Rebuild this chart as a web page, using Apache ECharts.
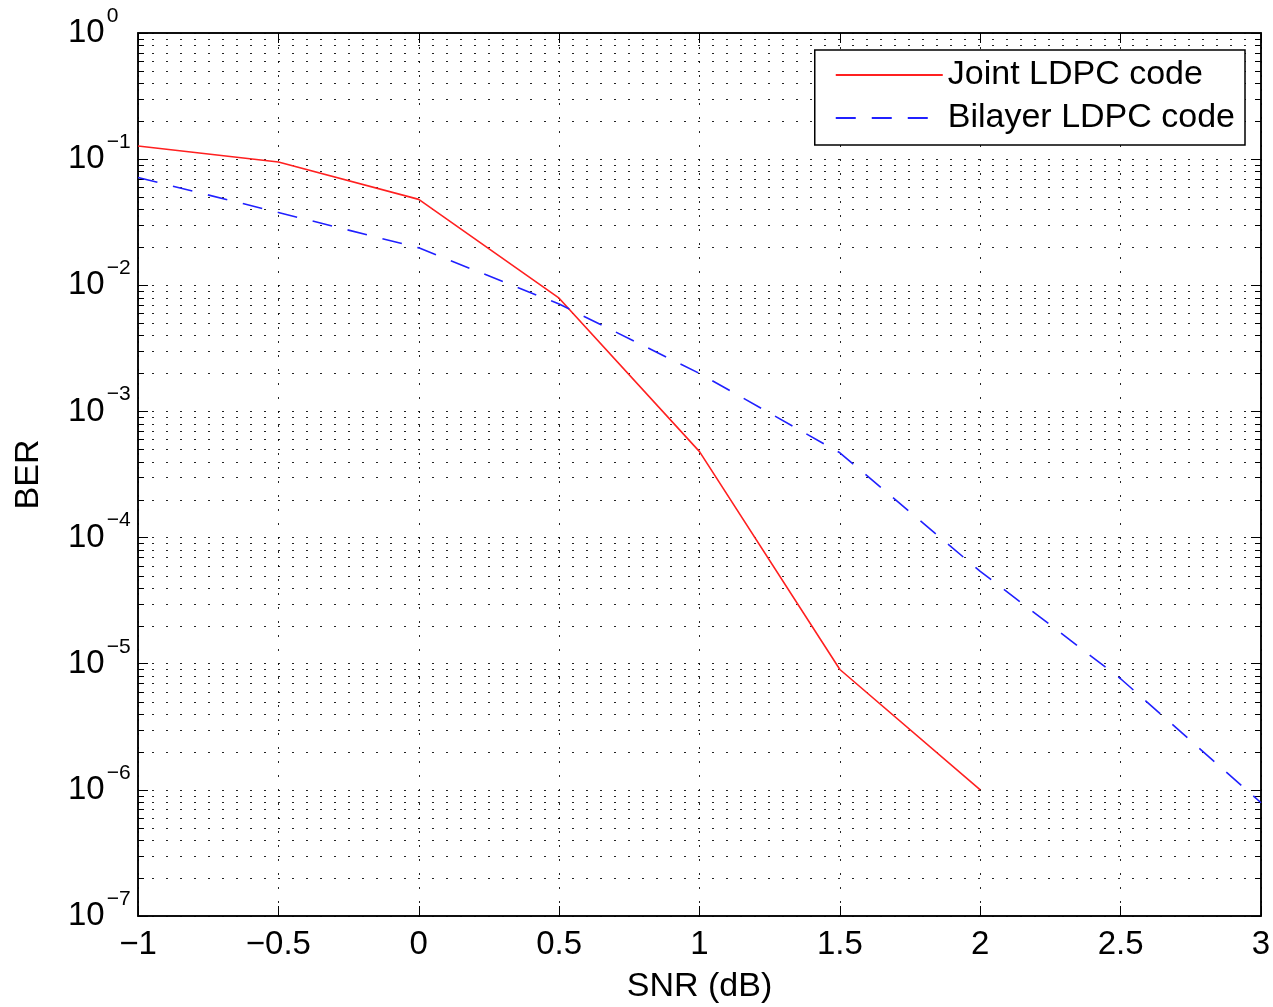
<!DOCTYPE html>
<html>
<head>
<meta charset="utf-8">
<script src="https://cdn.jsdelivr.net/npm/echarts@6/dist/echarts.min.js"></script>
<style>html,body{margin:0;padding:0;background:#fff}#c{width:1273px;height:1007px}</style>
</head>
<body>
<div id="c"></div>
<script>
const snr = [-1, -0.5, 0, 0.5, 1, 1.5, 2, 2.5, 3];
const jointBER = [0.127, 0.095, 0.048, 0.0079, 4.8e-4, 9.0e-6, 1.0e-6];
const bilayerBER = [0.0716, 0.0378, 0.0198, 0.0071, 0.0020, 4.7e-4, 5.4e-5, 7.6e-6, 7.9e-7];
const seriesNames = ['Joint LDPC code', 'Bilayer LDPC code'];
const xMin = -1, xMax = 3, xStep = 0.5;
const yMin = 1e-7, yMax = 1;

const FONT = 'Liberation Sans, Arial, sans-serif';
const minorVals = [];
for (let d = -7; d < 0; d++) for (let m = 2; m <= 9; m++) minorVals.push(m * Math.pow(10, d));

const dotted = { color: '#000', width: 1, type: [2, 12], opacity: 0.85 };
function fmtNum(v) { return (v < 0 ? '\u2212' : '') + Math.abs(v); }

const chart = echarts.init(document.getElementById('c'));
chart.setOption({
  animation: false,
  backgroundColor: '#fff',
  grid: { left: 138, right: 12, top: 33, bottom: 91, show: true, borderColor: '#000', borderWidth: 1.5, outerBoundsMode: 'none', containLabel: false },
  legend: {
    right: 28, top: 50, orient: 'vertical',
    backgroundColor: '#fff', borderColor: '#000', borderWidth: 1.5,
    padding: [8, 10, 10, 20], itemGap: 9, itemWidth: 107, itemHeight: 20,
    itemStyle: { opacity: 0 },
    textStyle: { fontFamily: FONT, fontSize: 34, color: '#000' },
    data: seriesNames
  },
  xAxis: [{
    type: 'value', min: xMin, max: xMax, interval: xStep,
    name: 'SNR (dB)', nameLocation: 'middle', nameGap: 54,
    nameTextStyle: { fontFamily: FONT, fontSize: 34, color: '#000' },
    axisLine: { show: true, onZero: false, lineStyle: { color: '#000', width: 1.5 } },
    axisTick: { show: true, inside: true, length: 10, lineStyle: { color: '#000' } },
    axisLabel: { fontFamily: FONT, fontSize: 33, color: '#000', margin: 12, formatter: fmtNum },
    splitLine: { show: true, lineStyle: dotted }
  }, {
    type: 'value', position: 'top', min: xMin, max: xMax, interval: xStep,
    axisLine: { show: true, onZero: false, lineStyle: { color: '#000', width: 1.5 } },
    axisTick: { show: true, inside: true, length: 10, lineStyle: { color: '#000' } },
    axisLabel: { show: false }, splitLine: { show: false }
  }],
  yAxis: [{
    type: 'log', logBase: 10, min: yMin, max: yMax, splitNumber: 7,
    name: 'BER', nameLocation: 'middle', nameGap: 92, nameRotate: 90,
    nameTextStyle: { fontFamily: FONT, fontSize: 34, color: '#000' },
    axisLine: { show: true, onZero: false, lineStyle: { color: '#000', width: 1.5 } },
    axisTick: { show: true, inside: true, length: 10, lineStyle: { color: '#000' } },
    axisLabel: {
      margin: 70, align: 'left',
      formatter: function (v) {
        const e = Math.round(Math.log10(v));
        return '{b|10}{s|' + (e < 0 ? '\u2212' + (-e) : e) + '}';
      },
      rich: {
        b: { fontFamily: FONT, fontSize: 33, color: '#000', padding: [11, 2, 11, 0] },
        s: { fontFamily: FONT, fontSize: 21, color: '#000', verticalAlign: 'top' }
      }
    },
    splitLine: { show: true, lineStyle: dotted }
  }, {
    type: 'log', logBase: 10, min: yMin, max: yMax, splitNumber: 7, position: 'right',
    axisLine: { show: true, onZero: false, lineStyle: { color: '#000', width: 1.5 } },
    axisTick: { show: true, inside: true, length: 10, lineStyle: { color: '#000' } },
    axisLabel: { show: false }, splitLine: { show: false }
  }],
  series: [{
    name: 'minorGrid', type: 'custom', silent: true, z: 1,
    data: minorVals.map(v => [xMin, v]),
    renderItem: function (params, api) {
      const cs = params.coordSys;
      const y = Math.round(api.coord([xMin, api.value(1)])[1]) + 0.5;
      return {
        type: 'group',
        children: [
          { type: 'line', shape: { x1: cs.x, y1: y, x2: cs.x + cs.width, y2: y },
            style: { stroke: '#000', lineWidth: 1, lineDash: [2, 12], opacity: 0.85 } },
          { type: 'line', shape: { x1: cs.x, y1: y, x2: cs.x + 6, y2: y },
            style: { stroke: '#000', lineWidth: 1 } },
          { type: 'line', shape: { x1: cs.x + cs.width - 6, y1: y, x2: cs.x + cs.width, y2: y },
            style: { stroke: '#000', lineWidth: 1 } }
        ]
      };
    }
  }, {
    name: seriesNames[0], type: 'line', symbol: 'none',
    data: jointBER.map((v, i) => [snr[i], v]),
    lineStyle: { color: '#ff2020', width: 1.6 }, itemStyle: { color: '#ff2020' },
    z: 3
  }, {
    name: seriesNames[1], type: 'line', symbol: 'none',
    data: bilayerBER.map((v, i) => [snr[i], v]),
    lineStyle: { color: '#2020ff', width: 1.6, type: [20, 16] }, itemStyle: { color: '#2020ff' },
    z: 3
  }]
});
</script>
</body>
</html>
